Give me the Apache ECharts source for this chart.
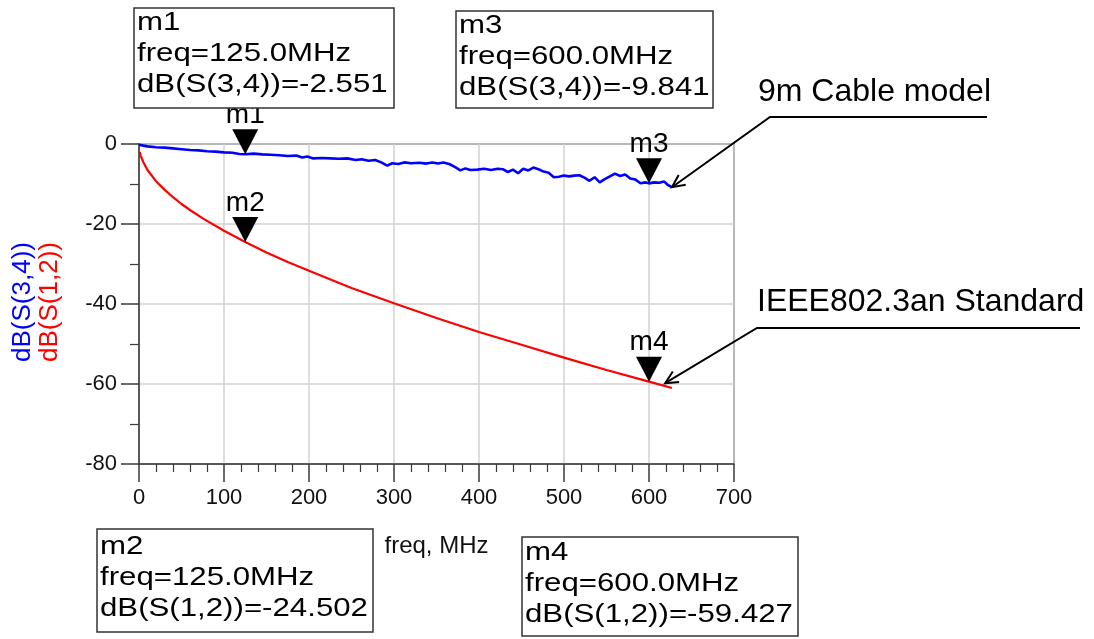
<!DOCTYPE html>
<html><head><meta charset="utf-8">
<script src="https://cdn.jsdelivr.net/npm/echarts@6/dist/echarts.min.js"></script>
<style>html,body{margin:0;padding:0;background:#fff}#c{width:1094px;height:639px}</style>
</head><body><div id="c"></div>
<script>
// ---- data ----
const xTickValues = [0, 100, 200, 300, 400, 500, 600, 700];
const yTickValues = [-80, -60, -40, -20, 0];

const redFreq = [1, 2, 5, 10, 20, 30, 40, 50, 60, 75, 100, 125, 150, 175, 200, 250, 300, 350, 400, 450, 500, 550, 600, 627];
const redDb   = [-2.0, -2.9, -4.5, -6.5, -9.3, -11.4, -13.3, -15.0, -16.5, -18.6, -21.7, -24.5, -27.1, -29.5, -31.7, -36.0, -39.8, -43.5, -47.0, -50.2, -53.4, -56.5, -59.4, -61.0];

const blueFreq = [0, 5, 10, 20, 30, 40, 50, 60, 70, 80, 90, 100, 110, 118, 125, 135, 145, 155, 165, 175, 185, 192, 198, 205, 215, 225, 235, 245, 255, 262, 270, 278, 285, 292, 298, 305, 312, 320, 330, 338, 345, 352, 358, 365, 372, 378, 384, 390, 398, 406, 414, 422, 428, 434, 440, 446, 452, 458, 464, 470, 476, 482, 488, 494, 500, 506, 512, 518, 524, 530, 536, 542, 548, 554, 560, 566, 572, 578, 584, 590, 596, 600, 606, 612, 618, 622, 627];
const blueDb   = [-0.2, -0.4, -0.6, -0.8, -0.9, -1.1, -1.3, -1.5, -1.6, -1.8, -1.9, -2.1, -2.2, -2.5, -2.55, -2.4, -2.6, -2.7, -2.8, -3.0, -2.9, -3.4, -3.1, -3.6, -3.5, -3.6, -3.7, -3.6, -4.0, -3.8, -4.2, -4.0, -4.6, -5.4, -4.8, -5.0, -4.6, -4.8, -4.7, -4.9, -4.6, -4.9, -4.6, -5.0, -5.8, -6.6, -6.1, -6.5, -6.4, -6.2, -6.5, -6.2, -6.3, -7.0, -6.4, -7.3, -6.2, -6.6, -5.9, -6.3, -6.9, -7.2, -8.3, -8.2, -7.9, -8.1, -7.9, -7.8, -8.4, -9.2, -8.3, -9.6, -8.8, -8.1, -7.4, -8.0, -7.6, -8.6, -8.9, -9.8, -9.6, -9.84, -9.6, -9.7, -9.4, -10.2, -10.8];

const markerNames = ['m1', 'm2', 'm3', 'm4'];
const markerFreq  = [125, 125, 600, 600];
const markerDb    = [-2.551, -24.502, -9.841, -59.427];
const markerTrace = ['dB(S(3,4))', 'dB(S(1,2))', 'dB(S(3,4))', 'dB(S(1,2))'];

const yAxisNames = ['dB(S(3,4))', 'dB(S(1,2))'];
const xAxisName = 'freq, MHz';
const annotationTexts = ['9m Cable model', 'IEEE802.3an Standard'];
const annotationTargetFreq = [627, 619];
const annotationTargetDb = [-10.8, -59.8];

// ---- chart ----
const FONT = 'Arial, "Liberation Sans", sans-serif';
const chart = echarts.init(document.getElementById('c'), null, {renderer: 'canvas'});
const zip = (a, b) => a.map((v, i) => [v, b[i]]);
const axisColor = '#3a3a3a';

chart.setOption({
  animation: false,
  backgroundColor: '#fff',
  grid: {left: 139, right: 360, top: 144, bottom: 175, show: true, borderColor: axisColor, borderWidth: 1.5, containLabel: false},
  xAxis: {
    type: 'value', min: xTickValues[0], max: xTickValues[xTickValues.length - 1], interval: 100,
    axisLine: {show: true, onZero: false, lineStyle: {color: axisColor, width: 1.5}},
    axisTick: {show: true, inside: false, length: 18, lineStyle: {color: axisColor, width: 1.5}},
    minorTick: {show: true, splitNumber: 5, length: 8, lineStyle: {color: axisColor, width: 1.2}},
    splitLine: {show: true, lineStyle: {color: '#d2d2d2', width: 1.5}},
    axisLabel: {margin: 23, fontSize: 22, color: '#111', fontFamily: FONT,
      formatter: v => xTickValues.includes(v) ? String(v) : ''},
    name: xAxisName, nameLocation: 'middle', nameGap: 70,
    nameTextStyle: {fontSize: 24, color: '#111', fontFamily: FONT, align: 'center'}
  },
  yAxis: {
    type: 'value', min: yTickValues[0], max: yTickValues[yTickValues.length - 1], interval: 20,
    axisLine: {show: true, onZero: false, lineStyle: {color: axisColor, width: 1.5}},
    axisTick: {show: true, inside: false, length: 18, lineStyle: {color: axisColor, width: 1.5}},
    minorTick: {show: true, splitNumber: 2, length: 9, lineStyle: {color: axisColor, width: 1.2}},
    splitLine: {show: true, lineStyle: {color: '#d2d2d2', width: 1.5}},
    axisLabel: {margin: 22, fontSize: 22, color: '#111', fontFamily: FONT,
      formatter: v => yTickValues.includes(v) ? String(v) : ''}
  },
  series: [
    {type: 'line', name: 'S34', data: zip(blueFreq, blueDb), showSymbol: false, z: 3,
     lineStyle: {color: '#0000ff', width: 2.6}, itemStyle: {color: '#0000ff'}},
    {type: 'line', name: 'S12', data: zip(redFreq, redDb), showSymbol: false, z: 3,
     lineStyle: {color: '#ff0000', width: 2.2}, itemStyle: {color: '#ff0000'}},
    {type: 'scatter', name: 'markers', z: 5,
     data: markerFreq.map((f, i) => [f, markerDb[i], markerNames[i]]),
     symbol: 'path://M0,0L20,0L10,20Z', symbolSize: [26, 25], symbolOffset: [0, '-50%'],
     itemStyle: {color: '#000', opacity: 1},
     label: {show: true, position: 'top', distance: 0, fontSize: 28, color: '#000', opacity: 1, fontFamily: FONT,
       formatter: p => p.data[2]}}
  ]
});

// ---- annotations drawn with graphic ----
const g = [];
const yNameColors = ['#0000ff', '#ff0000'];
const yNameX = [23, 50];
yAxisNames.forEach((t, i) => {
  g.push({type: 'text', x: yNameX[i], y: 302, rotation: Math.PI / 2,
    style: {text: t, fontSize: 26, fontFamily: FONT, fill: yNameColors[i], align: 'center', verticalAlign: 'middle'}});
});

const boxes = [
  {i: 0, x: 134, y: 8, w: 260, h: 100, base: 36},
  {i: 1, x: 97, y: 529, w: 276, h: 103, base: 560},
  {i: 2, x: 456, y: 11, w: 257, h: 97, base: 39},
  {i: 3, x: 522, y: 537, w: 276, h: 99, base: 566}
];
boxes.forEach(b => {
  g.push({type: 'rect', shape: {x: b.x, y: b.y, width: b.w, height: b.h},
    style: {fill: '#fff', stroke: '#333', lineWidth: 1.5}, z: 10});
  const lines = [markerNames[b.i], 'freq=' + markerFreq[b.i].toFixed(1) + 'MHz', markerTrace[b.i] + '=' + markerDb[b.i]];
  lines.forEach((t, k) => {
    g.push({type: 'text', x: b.x + 3, y: b.base + k * 31, scaleX: 1.2, z: 11,
      style: {text: t, fontSize: 26, fontFamily: FONT, fill: '#000', align: 'left', verticalAlign: 'bottom'}});
  });
});

const callouts = [
  {text: annotationTexts[0], tx: 758, ty: 92, elbow: [770, 117], end: [987, 117]},
  {text: annotationTexts[1], tx: 757, ty: 302, elbow: [757, 328], end: [1080, 328]}
];
callouts.forEach((c, i) => {
  const tip = chart.convertToPixel({gridIndex: 0}, [annotationTargetFreq[i], annotationTargetDb[i]]);
  g.push({type: 'text', x: c.tx, y: c.ty, z: 11,
    style: {text: c.text, fontSize: 32, fontFamily: FONT, fill: '#000', align: 'left', verticalAlign: 'middle'}});
  g.push({type: 'polyline', shape: {points: [c.end, c.elbow, tip]}, z: 11,
    style: {stroke: '#000', lineWidth: 2, fill: null}});
  const dx = c.elbow[0] - tip[0], dy = c.elbow[1] - tip[1];
  const a = Math.atan2(dy, dx), L = 14, sp = 0.45;
  const p1 = [tip[0] + L * Math.cos(a + sp), tip[1] + L * Math.sin(a + sp)];
  const p2 = [tip[0] + L * Math.cos(a - sp), tip[1] + L * Math.sin(a - sp)];
  g.push({type: 'polyline', shape: {points: [p1, tip, p2]}, z: 11,
    style: {stroke: '#000', lineWidth: 2, fill: null}});
});

chart.setOption({graphic: g});
</script>
</body></html>
